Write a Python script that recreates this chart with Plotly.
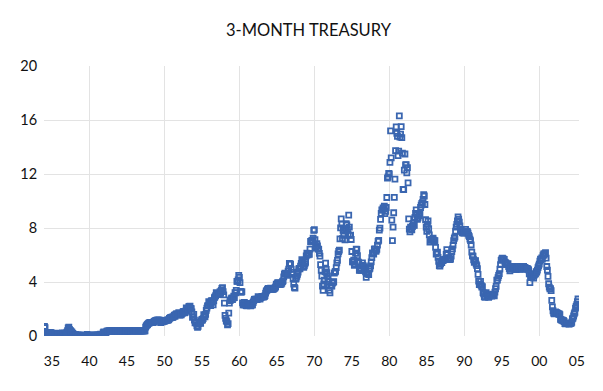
import plotly.graph_objects as go

# Monthly 3-month Treasury bill rate (%), Jan 1934 - Mar 2005
rates_by_year = {
    1934: [0.72, 0.62, 0.24, 0.15, 0.16, 0.15, 0.15, 0.19, 0.21, 0.27, 0.25, 0.23],
    1935: [0.20, 0.19, 0.15, 0.16, 0.16, 0.15, 0.15, 0.19, 0.21, 0.20, 0.17, 0.15],
    1936: [0.12, 0.13, 0.11, 0.14, 0.20, 0.23, 0.17, 0.19, 0.21, 0.15, 0.11, 0.22],
    1937: [0.28, 0.39, 0.60, 0.66, 0.48, 0.42, 0.37, 0.30, 0.28, 0.20, 0.15, 0.10],
    1938: [0.09, 0.09, 0.10, 0.06, 0.05, 0.06, 0.06, 0.05, 0.08, 0.07, 0.03, 0.03],
    1939: [0.04, 0.03, 0.02, 0.01, 0.01, 0.02, 0.03, 0.04, 0.11, 0.03, 0.02, 0.01],
    1940: [0.01, 0.02, 0.01, 0.01, 0.08, 0.09, 0.03, 0.04, 0.03, 0.02, 0.01, 0.01],
    1941: [0.06, 0.04, 0.09, 0.09, 0.08, 0.10, 0.13, 0.11, 0.07, 0.02, 0.24, 0.30],
    1942: [0.23, 0.26, 0.20, 0.29, 0.35, 0.36, 0.36, 0.37, 0.37, 0.37, 0.37, 0.37],
    1943: [0.37, 0.37, 0.37, 0.37, 0.37, 0.37, 0.37, 0.37, 0.37, 0.37, 0.37, 0.37],
    1944: [0.37, 0.37, 0.37, 0.37, 0.37, 0.37, 0.37, 0.37, 0.37, 0.37, 0.37, 0.37],
    1945: [0.37, 0.37, 0.38, 0.38, 0.38, 0.38, 0.38, 0.38, 0.38, 0.38, 0.38, 0.38],
    1946: [0.38, 0.38, 0.38, 0.38, 0.38, 0.38, 0.38, 0.38, 0.38, 0.38, 0.38, 0.38],
    1947: [0.38, 0.38, 0.38, 0.38, 0.38, 0.38, 0.66, 0.75, 0.80, 0.85, 0.92, 0.95],
    1948: [0.97, 1.00, 1.00, 1.00, 1.00, 1.00, 1.00, 1.05, 1.09, 1.12, 1.14, 1.16],
    1949: [1.17, 1.17, 1.17, 1.17, 1.17, 1.16, 1.00, 1.04, 1.07, 1.04, 1.07, 1.10],
    1950: [1.10, 1.13, 1.14, 1.16, 1.17, 1.17, 1.17, 1.21, 1.31, 1.33, 1.37, 1.37],
    1951: [1.39, 1.39, 1.40, 1.47, 1.55, 1.45, 1.59, 1.64, 1.64, 1.60, 1.61, 1.73],
    1952: [1.57, 1.54, 1.59, 1.57, 1.67, 1.70, 1.81, 1.83, 1.71, 1.74, 1.85, 2.09],
    1953: [1.96, 1.97, 2.03, 2.18, 2.20, 2.22, 2.04, 2.02, 1.79, 1.38, 1.44, 1.60],
    1954: [1.18, 0.97, 1.03, 0.96, 0.76, 0.64, 0.72, 0.92, 1.01, 0.98, 0.93, 1.14],
    1955: [1.23, 1.17, 1.28, 1.59, 1.45, 1.41, 1.60, 1.90, 2.07, 2.23, 2.25, 2.54],
    1956: [2.41, 2.32, 2.25, 2.60, 2.61, 2.49, 2.31, 2.60, 2.84, 2.90, 2.99, 3.21],
    1957: [3.11, 3.10, 3.08, 3.06, 3.06, 3.29, 3.16, 3.37, 3.53, 3.58, 3.29, 3.04],
    1958: [2.44, 1.53, 1.30, 1.13, 1.06, 0.83, 0.91, 1.69, 2.44, 2.63, 2.67, 2.77],
    1959: [2.82, 2.70, 2.80, 2.95, 2.84, 3.21, 3.20, 3.38, 4.04, 4.05, 4.15, 4.49],
    1960: [4.35, 3.96, 3.31, 3.23, 3.29, 2.46, 2.30, 2.30, 2.48, 2.30, 2.37, 2.25],
    1961: [2.24, 2.42, 2.39, 2.29, 2.29, 2.33, 2.24, 2.39, 2.28, 2.30, 2.48, 2.60],
    1962: [2.72, 2.73, 2.72, 2.73, 2.69, 2.73, 2.92, 2.82, 2.78, 2.74, 2.83, 2.87],
    1963: [2.91, 2.92, 2.89, 2.90, 2.92, 2.99, 3.18, 3.32, 3.38, 3.45, 3.52, 3.52],
    1964: [3.52, 3.53, 3.54, 3.47, 3.48, 3.48, 3.46, 3.50, 3.53, 3.57, 3.64, 3.84],
    1965: [3.81, 3.93, 3.93, 3.93, 3.89, 3.80, 3.84, 3.84, 3.92, 4.03, 4.09, 4.38],
    1966: [4.59, 4.65, 4.59, 4.62, 4.64, 4.50, 4.80, 4.96, 5.37, 5.35, 5.32, 4.96],
    1967: [4.72, 4.56, 4.26, 3.84, 3.60, 3.54, 4.21, 4.27, 4.42, 4.56, 4.73, 4.97],
    1968: [5.00, 4.98, 5.17, 5.38, 5.66, 5.52, 5.31, 5.09, 5.19, 5.35, 5.45, 5.94],
    1969: [6.13, 6.12, 6.01, 6.11, 6.04, 6.44, 7.00, 6.98, 7.09, 7.00, 7.24, 7.82],
    1970: [7.87, 7.13, 6.63, 6.51, 6.84, 6.68, 6.45, 6.41, 6.12, 5.91, 5.28, 4.87],
    1971: [4.44, 3.70, 3.38, 3.86, 4.14, 4.75, 5.40, 4.94, 4.69, 4.46, 4.22, 4.01],
    1972: [3.38, 3.20, 3.73, 3.71, 3.69, 3.91, 3.98, 4.02, 4.66, 4.74, 4.78, 5.07],
    1973: [5.41, 5.60, 6.09, 6.26, 6.36, 7.19, 8.01, 8.67, 8.29, 7.22, 7.83, 7.45],
    1974: [7.77, 7.12, 7.96, 8.33, 8.23, 7.90, 7.55, 8.96, 8.06, 7.46, 7.47, 7.15],
    1975: [6.26, 5.50, 5.49, 5.61, 5.23, 5.34, 6.13, 6.44, 6.42, 5.96, 5.48, 5.44],
    1976: [4.87, 4.88, 5.00, 4.86, 5.20, 5.41, 5.23, 5.14, 5.08, 4.92, 4.75, 4.35],
    1977: [4.62, 4.67, 4.60, 4.54, 4.96, 5.02, 5.19, 5.49, 5.81, 6.16, 6.10, 6.07],
    1978: [6.44, 6.45, 6.29, 6.29, 6.41, 6.73, 7.01, 7.08, 7.85, 7.99, 8.64, 9.08],
    1979: [9.35, 9.32, 9.48, 9.46, 9.61, 9.06, 9.24, 9.52, 10.26, 11.70, 11.79, 12.04],
    1980: [12.00, 12.86, 15.20, 13.20, 8.58, 7.07, 8.06, 9.13, 10.27, 11.62, 13.73, 15.49],
    1981: [15.02, 14.79, 13.36, 13.69, 16.30, 14.73, 14.95, 15.51, 14.70, 13.54, 10.86, 10.85],
    1982: [12.28, 13.48, 12.68, 12.70, 12.09, 12.47, 11.35, 8.68, 7.92, 7.71, 8.07, 7.94],
    1983: [7.86, 8.11, 8.35, 8.21, 8.19, 8.79, 9.08, 9.34, 9.00, 8.64, 8.76, 9.00],
    1984: [8.90, 9.09, 9.52, 9.69, 9.83, 9.87, 10.12, 10.47, 10.37, 9.74, 8.61, 8.06],
    1985: [7.76, 8.27, 8.52, 7.95, 7.48, 6.95, 7.08, 7.14, 7.10, 7.16, 7.24, 7.10],
    1986: [7.07, 7.06, 6.56, 6.06, 6.15, 6.21, 5.83, 5.53, 5.21, 5.18, 5.35, 5.53],
    1987: [5.43, 5.59, 5.59, 5.64, 5.66, 5.67, 5.69, 6.04, 6.40, 6.13, 5.69, 5.77],
    1988: [5.81, 5.66, 5.70, 5.91, 6.26, 6.46, 6.73, 7.06, 7.24, 7.35, 7.76, 8.07],
    1989: [8.27, 8.53, 8.82, 8.65, 8.43, 8.15, 7.88, 7.90, 7.75, 7.64, 7.69, 7.63],
    1990: [7.64, 7.74, 7.90, 7.77, 7.74, 7.73, 7.62, 7.45, 7.36, 7.17, 7.06, 6.74],
    1991: [6.22, 5.94, 5.91, 5.65, 5.46, 5.57, 5.58, 5.33, 5.22, 4.99, 4.56, 4.07],
    1992: [3.80, 3.84, 4.04, 3.75, 3.63, 3.66, 3.21, 3.13, 2.91, 2.86, 3.13, 3.22],
    1993: [3.00, 2.93, 2.95, 2.87, 2.96, 3.07, 3.04, 3.02, 2.95, 3.02, 3.10, 3.06],
    1994: [2.98, 3.25, 3.50, 3.68, 4.14, 4.14, 4.33, 4.48, 4.62, 4.95, 5.29, 5.60],
    1995: [5.71, 5.77, 5.73, 5.65, 5.67, 5.47, 5.42, 5.40, 5.28, 5.28, 5.36, 5.14],
    1996: [5.00, 4.83, 4.96, 4.95, 5.02, 5.09, 5.15, 5.05, 5.09, 4.99, 5.03, 4.91],
    1997: [5.03, 5.01, 5.14, 5.16, 5.05, 4.93, 5.05, 5.14, 4.95, 4.97, 5.14, 5.16],
    1998: [5.04, 5.09, 5.03, 4.95, 5.00, 4.98, 4.96, 4.90, 4.61, 3.96, 4.41, 4.39],
    1999: [4.34, 4.45, 4.48, 4.28, 4.51, 4.59, 4.60, 4.76, 4.73, 4.88, 5.07, 5.20],
    2000: [5.32, 5.55, 5.69, 5.66, 5.79, 5.69, 5.96, 6.09, 6.00, 6.11, 6.17, 5.77],
    2001: [5.15, 4.88, 4.42, 3.87, 3.62, 3.49, 3.51, 3.36, 2.64, 2.16, 1.87, 1.69],
    2002: [1.65, 1.73, 1.79, 1.72, 1.73, 1.70, 1.68, 1.62, 1.63, 1.58, 1.23, 1.19],
    2003: [1.17, 1.17, 1.13, 1.13, 1.07, 0.92, 0.90, 0.95, 0.94, 0.92, 0.93, 0.90],
    2004: [0.88, 0.93, 0.94, 0.94, 1.02, 1.27, 1.33, 1.48, 1.65, 1.76, 2.07, 2.19],
    2005: [2.33, 2.54, 2.74],
}

x_tick_years = [1935, 1940, 1945, 1950, 1955, 1960, 1965, 1970, 1975, 1980, 1985, 1990, 1995, 2000, 2005]
x_tick_labels = ["35", "40", "45", "50", "55", "60", "65", "70", "75", "80", "85", "90", "95", "00", "05"]
x_grid_years = [1940, 1950, 1960, 1970, 1980, 1990, 2000]
y_tick_vals = [0, 4, 8, 12, 16, 20]
y_grid_vals = [4, 8, 12, 16]

dates, rates = [], []
for yr, vals in rates_by_year.items():
    for m, v in enumerate(vals):
        dates.append(yr + m / 12.0)
        rates.append(v)

FONT = "Lato, 'Open Sans', sans-serif"
GRID = "#e3e3e3"

fig = go.Figure(go.Scatter(
    x=dates, y=rates, mode="markers",
    marker=dict(symbol="square-open", size=5, color="#3a66b0",
                line=dict(width=1.8, color="#3a66b0")),
    hoverinfo="x+y", showlegend=False,
))

# page body has an 8px default margin, so the figure is sized to fit inside the window
fig.update_layout(
    width=595, height=383,
    margin=dict(l=33, r=24, t=58, b=55),
    paper_bgcolor="white", plot_bgcolor="white",
    font=dict(family=FONT, size=14, color="#111111"),
    title=dict(text="3-MONTH TREASURY", x=0.505, xanchor="center", y=0.942, yanchor="middle",
               font=dict(family=FONT, size=16.5, color="#111111")),
    xaxis=dict(range=[1933.94, 2005.3], tickmode="array", tickvals=x_tick_years,
               ticktext=x_tick_labels, showgrid=False, zeroline=False,
               ticks="outside", ticklen=12, tickcolor="rgba(0,0,0,0)",
               minor=dict(tickmode="array", tickvals=x_grid_years, showgrid=True,
                          gridcolor=GRID, gridwidth=1, ticks=""),
               showline=False, tickfont=dict(size=14)),
    yaxis=dict(range=[0, 20], tickmode="array", tickvals=y_tick_vals,
               showgrid=False, zeroline=False,
               ticks="outside", ticklen=3, tickcolor="rgba(0,0,0,0)",
               minor=dict(tickmode="array", tickvals=y_grid_vals, showgrid=True,
                          gridcolor=GRID, gridwidth=1, ticks=""),
               showline=False, tickfont=dict(size=14.5)),
)

fig.write_html("out.html")
